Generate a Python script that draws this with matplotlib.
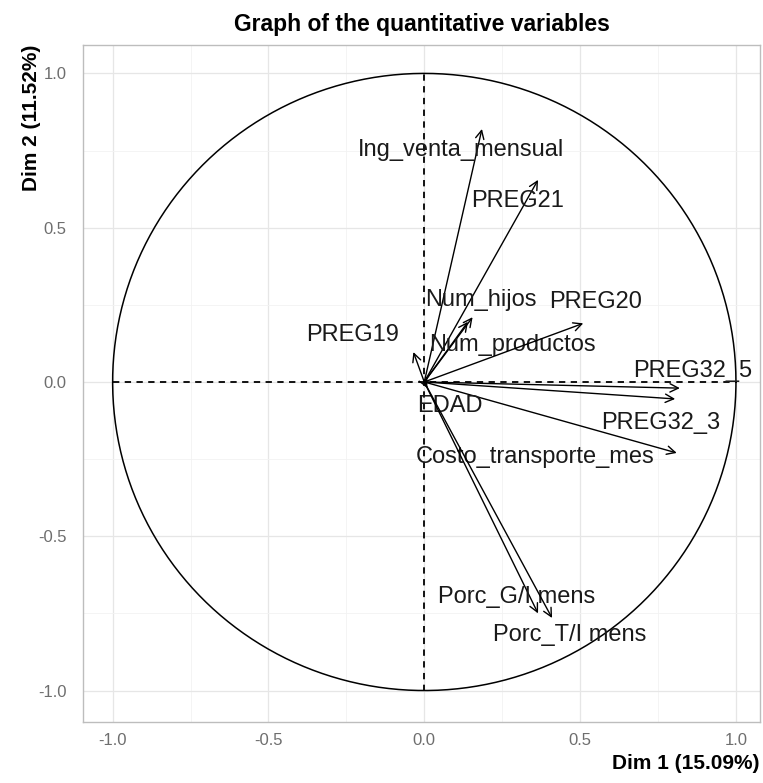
import numpy as np
import matplotlib.pyplot as plt

# coordinates of the variables on Dim 1 / Dim 2
variables = ["Ing_venta_mensual", "PREG21", "Num_hijos", "Num_productos", "PREG20",
             "PREG19", "PREG32_5", "PREG32_3", "Costo_transporte_mes", "EDAD",
             "Porc_G/I mens", "Porc_T/I mens"]
dim1 = [0.185, 0.365, 0.155, 0.140, 0.510, -0.035, 0.820, 0.805, 0.810, 0.010, 0.365, 0.410]
dim2 = [0.820, 0.655, 0.210, 0.195, 0.190, 0.097, -0.020, -0.055, -0.230, -0.020, -0.750, -0.765]
# label positions (repelled)
lab_x = [0.119, 0.298, 0.180, 0.282, 0.551, -0.230, 0.860, 0.760, 0.356, 0.083, 0.295, 0.468]
lab_y = [0.752, 0.587, 0.266, 0.120, 0.259, 0.152, 0.036, -0.133, -0.243, -0.078, -0.697, -0.820]

plt.rcParams['font.family'] = ['Liberation Sans', 'DejaVu Sans']

fig = plt.figure(figsize=(7.63, 7.83), dpi=100)
ax = fig.add_axes([0.1088, 0.0779, 0.8872, 0.8646])

ax.set_xlim(-1.095, 1.077)
ax.set_ylim(-1.102, 1.092)

ax.set_xticks([-1.0, -0.5, 0.0, 0.5, 1.0])
ax.set_yticks([-1.0, -0.5, 0.0, 0.5, 1.0])
ax.set_xticks([-0.75, -0.25, 0.25, 0.75], minor=True)
ax.set_yticks([-0.75, -0.25, 0.25, 0.75], minor=True)
ax.grid(which='major', color='#e6e6e6', lw=0.9)
ax.grid(which='minor', color='#f2f2f2', lw=0.6)
ax.set_axisbelow(True)
ax.tick_params(which='both', length=0, labelsize=12, labelcolor='#6e6e6e')
ax.tick_params(axis='y', pad=12)
ax.tick_params(axis='x', pad=8)
ax.xaxis.set_major_formatter(plt.FormatStrFormatter('%.1f'))
ax.yaxis.set_major_formatter(plt.FormatStrFormatter('%.1f'))
for s in ax.spines.values():
    s.set_color('#bdbdbd')
    s.set_linewidth(1.0)

t = np.linspace(0, 2 * np.pi, 400)
ax.plot(np.cos(t), np.sin(t), color='black', lw=1.1)
ax.plot([-1, 1], [0, 0], color='black', lw=1.3, ls=(0, (3.5, 3)))
ax.plot([0, 0], [-1, 1], color='black', lw=1.3, ls=(0, (3.5, 3)))

for name, x, y, lx, ly in zip(variables, dim1, dim2, lab_x, lab_y):
    ax.annotate('', xy=(x, y), xytext=(0, 0),
                arrowprops=dict(arrowstyle='->,head_length=0.6,head_width=0.3',
                                color='black', lw=1.0, shrinkA=0, shrinkB=0))
    ax.text(lx, ly, name, fontsize=17, color='#1a1a1a', ha='center', va='center')

ax.set_title('Graph of the quantitative variables', fontsize=16.5, fontweight='bold', pad=10)
ax.set_xlabel('Dim 1 (15.09%)', fontsize=15, fontweight='bold', loc='right', labelpad=4)
ax.set_ylabel('Dim 2 (11.52%)', fontsize=15, fontweight='bold', loc='top', labelpad=-2)

fig.savefig('out.png', dpi=100)
